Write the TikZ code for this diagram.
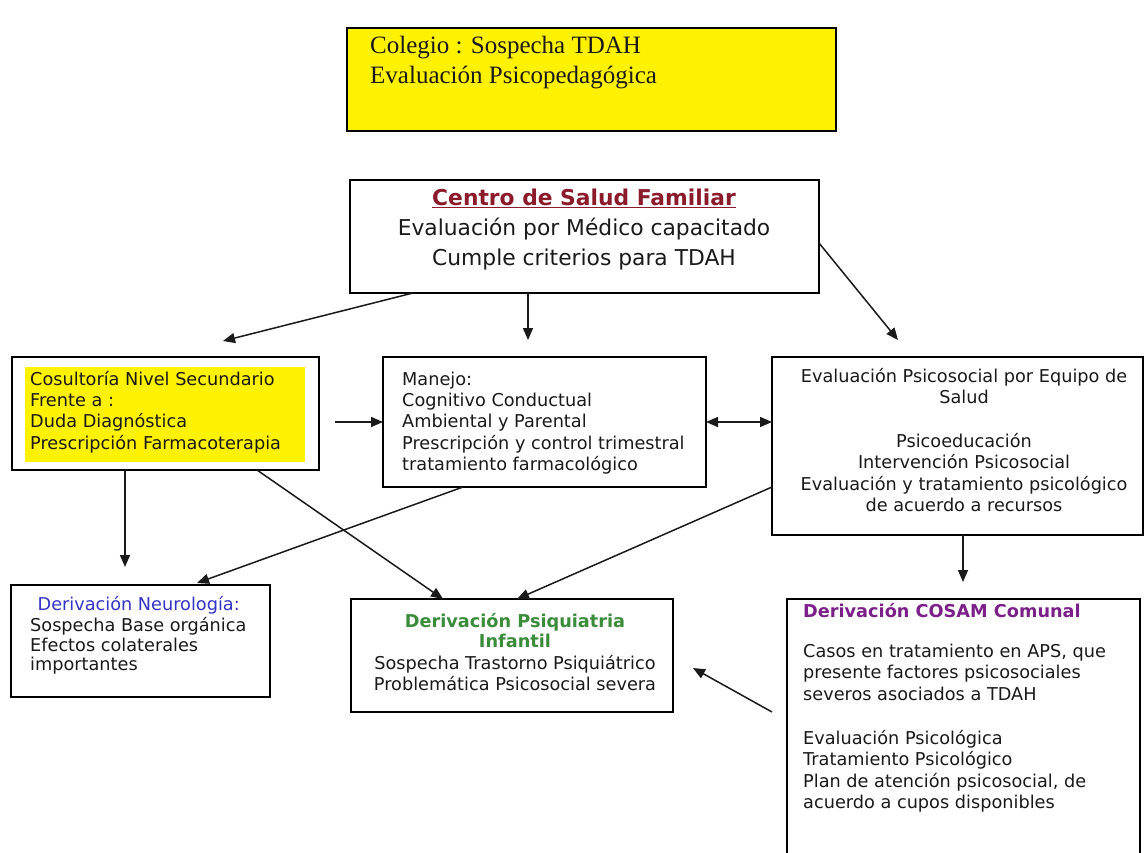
\documentclass[tikz,border=0pt]{standalone}
\usepackage{fontspec}
\setmainfont{DejaVu Sans}
\newfontfamily\timesfont{Liberation Serif}
\usetikzlibrary{arrows.meta,calc}
\definecolor{ink}{HTML}{1A1A1A}
\definecolor{titlered}{HTML}{8B1A2A}
\definecolor{neuroblue}{HTML}{3434C4}
\definecolor{psiqgreen}{HTML}{3A8C3A}
\definecolor{cosampurple}{HTML}{7B2088}
\tikzset{
  box/.style={draw=black, line width=1.6pt, rectangle, inner sep=0pt, outer sep=0pt},
  body/.style={font=\fontsize{17.7}{21.3}\selectfont, text=ink, inner sep=0pt, anchor=north west, align=left},
  bodyc/.style={body, anchor=north, align=center},
  arr/.style={line width=1.5pt, draw=ink, -{Triangle[length=12pt,width=10pt]}},
  darr/.style={line width=1.5pt, draw=ink, {Triangle[length=12pt,width=10pt]}-{Triangle[length=12pt,width=10pt]}},
}
\begin{document}
\begin{tikzpicture}[x=1pt,y=-1pt]
\clip (0,0) rectangle (1146,853);
\fill[white] (0,0) rectangle (1146,853);

% boxes
\node[box, fill=yellow, minimum width=489pt, minimum height=103pt] (colegio) at (591.5,79.5) {};
\node[box, minimum width=469pt, minimum height=113pt] (centro) at (584.5,236.5) {};
\node[box, minimum width=307pt, minimum height=113pt] (cons) at (165.5,413.5) {};
\node[fill=yellow, inner sep=0pt, minimum width=280pt, minimum height=95pt] (consfill) at (165,414.5) {};
\node[box, minimum width=323pt, minimum height=130pt] (manejo) at (544.5,422) {};
\node[box, minimum width=371pt, minimum height=178pt] (evalps) at (957.5,446) {};
\node[box, minimum width=259pt, minimum height=112pt] (neuro) at (140.5,641) {};
\node[box, minimum width=322pt, minimum height=113pt] (psiq) at (512,655.5) {};
\node[box, minimum width=353pt, minimum height=281pt] (cosam) at (963.5,739.5) {};

% texts
\node[inner sep=0pt, anchor=north west, align=left, text=ink,
      font=\timesfont\fontsize{25}{30}\selectfont] (tcolegio) at (370,32)
  {\strut Colegio : Sospecha TDAH\\Evaluación Psicopedagógica};

\node[inner sep=0pt, anchor=north, align=center, text=ink,
      font=\fontsize{21.8}{30}\selectfont] (tcentro) at (584,184)
  {\strut\textcolor{titlered}{\bfseries\underline{Centro de Salud Familiar}}\\
   Evaluación por Médico capacitado\\Cumple criterios para TDAH};

\node[body] (tcons) at (30,370.1)
  {\strut Cosultoría Nivel Secundario\\Frente a :\\Duda Diagnóstica\\Prescripción Farmacoterapia};

\node[body] (tmanejo) at (402,370.1)
  {\strut Manejo:\\Cognitivo Conductual\\Ambiental y Parental\\Prescripción y control trimestral\\tratamiento farmacológico};

\node[bodyc, font=\fontsize{17.7}{21.6}\selectfont] (tevalps) at (964,366.9)
  {\strut Evaluación Psicosocial por Equipo de\\Salud\\[21.6pt]
   Psicoeducación\\Intervención Psicosocial\\Evaluación y tratamiento psicológico\\de acuerdo a recursos};

\node[body, font=\fontsize{17.7}{19.4}\selectfont] (tneuro) at (30,596.4)
  {\strut\makebox[217pt]{\textcolor{neuroblue}{Derivación Neurología:}}\\Sospecha Base orgánica\\Efectos colaterales\\importantes};

\node[bodyc, font=\fontsize{17.7}{20.5}\selectfont] (tpsiq) at (515,612.6)
  {\strut\textcolor{psiqgreen}{\bfseries Derivación Psiquiatria}\\\textcolor{psiqgreen}{\bfseries Infantil}\\[1.5pt]
   Sospecha Trastorno Psiquiátrico\\Problemática Psicosocial severa};

\node[body] (tcosam) at (803,602.1)
  {\strut\textcolor{cosampurple}{\bfseries Derivación COSAM Comunal}\\[19pt]
   Casos en tratamiento en APS, que\\presente factores psicosociales\\severos asociados a TDAH\\[23pt]
   Evaluación Psicológica\\Tratamiento Psicológico\\Plan de atención psicosocial, de\\acuerdo a cupos disponibles};

% free ends of the connectors
\coordinate (tipcons) at (223,341);
\coordinate (tipmanejo) at (528,340);
\coordinate (tipevalps) at (898,340);
\coordinate (startmanejo) at (335,422);
\coordinate (tipneurodown) at (125,567);
\coordinate (tipneuro) at (197,583);
\coordinate (tipcosam) at (963,582);
\coordinate (tippsiq) at (693,668);

% connectors
\draw[arr] ($(centro.south west)+(63,0)$) -- (tipcons);
\draw[arr] (tipmanejo |- centro.south) -- (tipmanejo);
\draw[arr] ($(centro.north east)+(0,63)$) -- (tipevalps);
\draw[arr] (startmanejo) -- (startmanejo -| manejo.west);
\draw[darr] (manejo.east) -- (manejo.east -| evalps.west);
\draw[arr] (tipneurodown |- cons.south) -- (tipneurodown);
\draw[arr] ($(cons.south west)+(245,0)$) -- ($(psiq.north west)+(92,0)$);
\draw[arr] ($(manejo.south west)+(80,0)$) -- (tipneuro);
\draw[arr] ($(evalps.north west)+(0,130)$) -- ($(psiq.north west)+(166,0)$);
\draw[arr] (tipcosam |- evalps.south) -- (tipcosam);
\draw[arr] ($(cosam.north west)+(-15,113)$) -- (tippsiq);
\end{tikzpicture}
\end{document}
